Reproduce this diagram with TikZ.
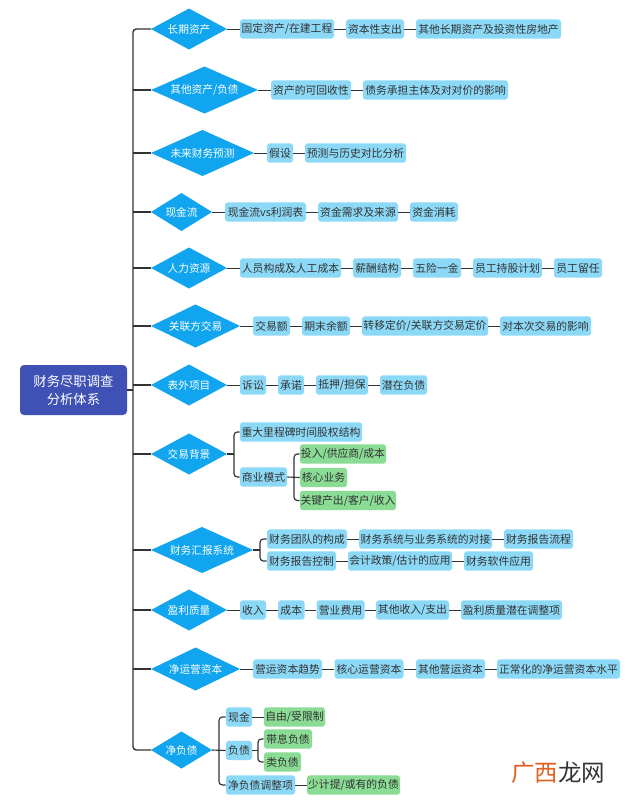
\documentclass[tikz,border=0pt]{standalone}
\usepackage{fontspec}
\setmainfont{Noto Sans CJK SC}
\usetikzlibrary{shapes.geometric}
\definecolor{blueleaf}{HTML}{8CD9F7}
\definecolor{greenleaf}{HTML}{8ADB94}
\definecolor{diablue}{HTML}{10A5EE}
\definecolor{rootblue}{HTML}{3F51B5}
\definecolor{linedark}{HTML}{333333}
\definecolor{inkdark}{HTML}{333333}
\definecolor{wmorange}{HTML}{E0601F}
\tikzset{
  x=0.75pt,y=-0.75pt,
  leafbase/.style={rectangle,rounded corners=2.2pt,inner sep=0pt,minimum height=14.6pt,text=inkdark,font=\fontsize{8.1pt}{10pt}\selectfont},
  leafb/.style={leafbase,fill=blueleaf},
  leafg/.style={leafbase,fill=greenleaf},
  dia/.style={diamond,fill=diablue,inner sep=0pt,outer sep=0pt},
  rootbox/.style={rectangle,rounded corners=3pt,fill=rootblue,text=white,inner sep=0pt,align=center,font=\fontsize{10pt}{13.5pt}\selectfont},
  link/.style={draw=linedark,line width=0.75pt},
  trunk/.style={draw=linedark,line width=1.1pt,rounded corners=2.5pt},
  fork/.style={draw=linedark,line width=0.85pt,rounded corners=2.5pt},
}
% name, style, x1, x2, y, text
\newcommand\lf[6]{%
  \pgfmathsetmacro\mycx{(#3+#4)/2}%
  \pgfmathsetmacro\mywd{(#4-#3)*0.75}%
  \node[#2,minimum width=\mywd pt] (#1) at (\mycx,#5) {#6};}
% name, x2, y, fullheight, text
\newcommand\dm[5]{%
  \pgfmathsetmacro\mycx{(151+#2)/2}%
  \pgfmathsetmacro\mywd{(#2-151)*0.75}%
  \pgfmathsetmacro\myht{#4*0.75}%
  \node[dia,minimum width=\mywd pt,minimum height=\myht pt,
    label={[text=white,inner sep=0pt,font=\fontsize{8pt}{10pt}\selectfont]center:{#5}}] (#1) at (\mycx,#3) {};}
\begin{document}
\begin{tikzpicture}
\useasboundingbox (0,0) rectangle (640,801);
\fill[white] (0,0) rectangle (640,801);
% root
\node[rootbox,minimum width=80.25pt,minimum height=37.5pt] (root) at (73.5,390) {财务尽职调查\\分析体系};
\coordinate (tk) at (133,390);
% diamonds
\dm{d1}{227}{29}{41}{长期资产}
\dm{d2}{258}{90}{47}{其他资产/负债}
\dm{d3}{254}{153}{46}{未来财务预测}
\dm{d4}{212}{212}{38}{现金流}
\dm{d5}{227}{268}{41}{人力资源}
\dm{d6}{240}{326}{43}{关联方交易}
\dm{d7}{227}{385}{41}{表外项目}
\dm{d8}{227}{454}{41}{交易背景}
\dm{d9}{253}{550}{46}{财务汇报系统}
\dm{d10}{227}{610}{41}{盈利质量}
\dm{d11}{240}{669}{43}{净运营资本}
\dm{d12}{212}{750}{37}{净负债}
% row 1
\lf{a1}{leafb}{240}{334}{29}{固定资产/在建工程}
\lf{a2}{leafb}{346}{404}{29}{资本性支出}
\lf{a3}{leafb}{416}{561}{29}{其他长期资产及投资性房地产}
% row 2
\lf{b1}{leafb}{271}{351}{90}{资产的可回收性}
\lf{b2}{leafb}{363}{508}{90}{债务承担主体及对对价的影响}
% row 3
\lf{c1}{leafb}{267}{293}{153}{假设}
\lf{c2}{leafb}{305}{406}{153}{预测与历史对比分析}
% row 4
\lf{e1}{leafb}{225}{306}{212}{现金流vs利润表}
\lf{e2}{leafb}{318}{398}{212}{资金需求及来源}
\lf{e3}{leafb}{410}{458}{212}{资金消耗}
% row 5
\lf{f1}{leafb}{240}{341}{268}{人员构成及人工成本}
\lf{f2}{leafb}{353}{401}{268}{薪酬结构}
\lf{f3}{leafb}{413}{461}{268}{五险一金}
\lf{f4}{leafb}{473}{542}{268}{员工持股计划}
\lf{f5}{leafb}{554}{602}{268}{员工留任}
% row 6
\lf{g1}{leafb}{253}{290}{326}{交易额}
\lf{g2}{leafb}{302}{350}{326}{期末余额}
\lf{g3}{leafb}{362}{488}{326}{转移定价/关联方交易定价}
\lf{g4}{leafb}{500}{591}{326}{对本次交易的影响}
% row 7
\lf{h1}{leafb}{240}{266}{385}{诉讼}
\lf{h2}{leafb}{278}{304}{385}{承诺}
\lf{h3}{leafb}{316}{368}{385}{抵押/担保}
\lf{h4}{leafb}{380}{427}{385}{潜在负债}
% row 8
\lf{i1}{leafb}{240}{362}{432}{重大里程碑时间股权结构}
\lf{i2}{leafb}{240}{287}{477}{商业模式}
\lf{i3}{leafg}{300}{386}{454}{投入/供应商/成本}
\lf{i4}{leafg}{300}{347}{477.5}{核心业务}
\lf{i5}{leafg}{300}{396}{500.5}{关键产出/客户/收入}
% row 9
\lf{j1}{leafb}{267}{347}{539}{财务团队的构成}
\lf{j2}{leafb}{359}{492}{539}{财务系统与业务系统的对接}
\lf{j3}{leafb}{504}{573}{539}{财务报告流程}
\lf{j4}{leafb}{267}{336}{561}{财务报告控制}
\lf{j5}{leafb}{348}{452}{561}{会计政策/估计的应用}
\lf{j6}{leafb}{464}{533}{561}{财务软件应用}
% row 10
\lf{k1}{leafb}{240}{266}{610}{收入}
\lf{k2}{leafb}{278}{304.5}{610}{成本}
\lf{k3}{leafb}{316.5}{364.5}{610}{营业费用}
\lf{k4}{leafb}{376}{449}{610}{其他收入/支出}
\lf{k5}{leafb}{461}{562}{610}{盈利质量潜在调整项}
% row 11
\lf{l1}{leafb}{253}{322}{669}{营运资本趋势}
\lf{l2}{leafb}{334.5}{403.5}{669}{核心运营资本}
\lf{l3}{leafb}{416}{485}{669}{其他营运资本}
\lf{l4}{leafb}{497}{620}{669}{正常化的净运营资本水平}
% row 12
\lf{m1}{leafb}{226}{252}{717}{现金}
\lf{m2}{leafg}{264}{325}{717}{自由/受限制}
\lf{m3}{leafb}{226}{252}{750.5}{负债}
\lf{m4}{leafg}{264}{312}{739}{带息负债}
\lf{m5}{leafg}{264}{301}{762}{类负债}
\lf{m6}{leafb}{226}{295}{785}{净负债调整项}
\lf{m7}{leafg}{307}{400}{785}{少计提/或有的负债}
% trunk
\draw[trunk] (root.east) -- (tk);
\draw[trunk] (d1.west) -| (tk) |- (d12.west);
\foreach \d in {d2,d3,d4,d5,d6,d7,d8,d9,d10,d11}{
  \draw[trunk] (tk |- \d.west) -- (\d.west);
}
% chains
\foreach \p/\q in {d1/a1,a1/a2,a2/a3,d2/b1,b1/b2,d3/c1,c1/c2,d4/e1,e1/e2,e2/e3,
  d5/f1,f1/f2,f2/f3,f3/f4,f4/f5,d6/g1,g1/g2,g2/g3,g3/g4,d7/h1,h1/h2,h2/h3,h3/h4,
  j1/j2,j2/j3,j4/j5,j5/j6,d10/k1,k1/k2,k2/k3,k3/k4,k4/k5,d11/l1,l1/l2,l2/l3,l3/l4,
  m1/m2,m6/m7}{
  \draw[link] (\p.east) -- (\q.west);
}
% forks
\coordinate (fa) at (234,454);
\draw[fork] (d8.east) -- (fa);
\draw[fork] (i1.west) -| (fa) |- (i2.west);
\coordinate (fb) at (294,477.5);
\draw[fork] (i2.east) -- (i4.west);
\draw[fork] (i3.west) -| (fb) |- (i5.west);
\coordinate (fc) at (260,550);
\draw[fork] (d9.east) -- (fc);
\draw[fork] (j1.west) -| (fc) |- (j4.west);
\coordinate (fd) at (219,750);
\draw[fork] (d12.east) -- (m3.west);
\draw[fork] (m1.west) -| (fd) |- (m6.west);
\coordinate (fe) at (258,750.5);
\draw[fork] (m3.east) -- (fe);
\draw[fork] (m4.west) -| (fe) |- (m5.west);
% watermark
\node[anchor=west,inner sep=0pt,font=\fontsize{17.6pt}{20pt}\selectfont] (wm) at (511,772.5) {\textcolor{wmorange}{广西}\textcolor{inkdark}{龙网}};
\end{tikzpicture}
\end{document}
